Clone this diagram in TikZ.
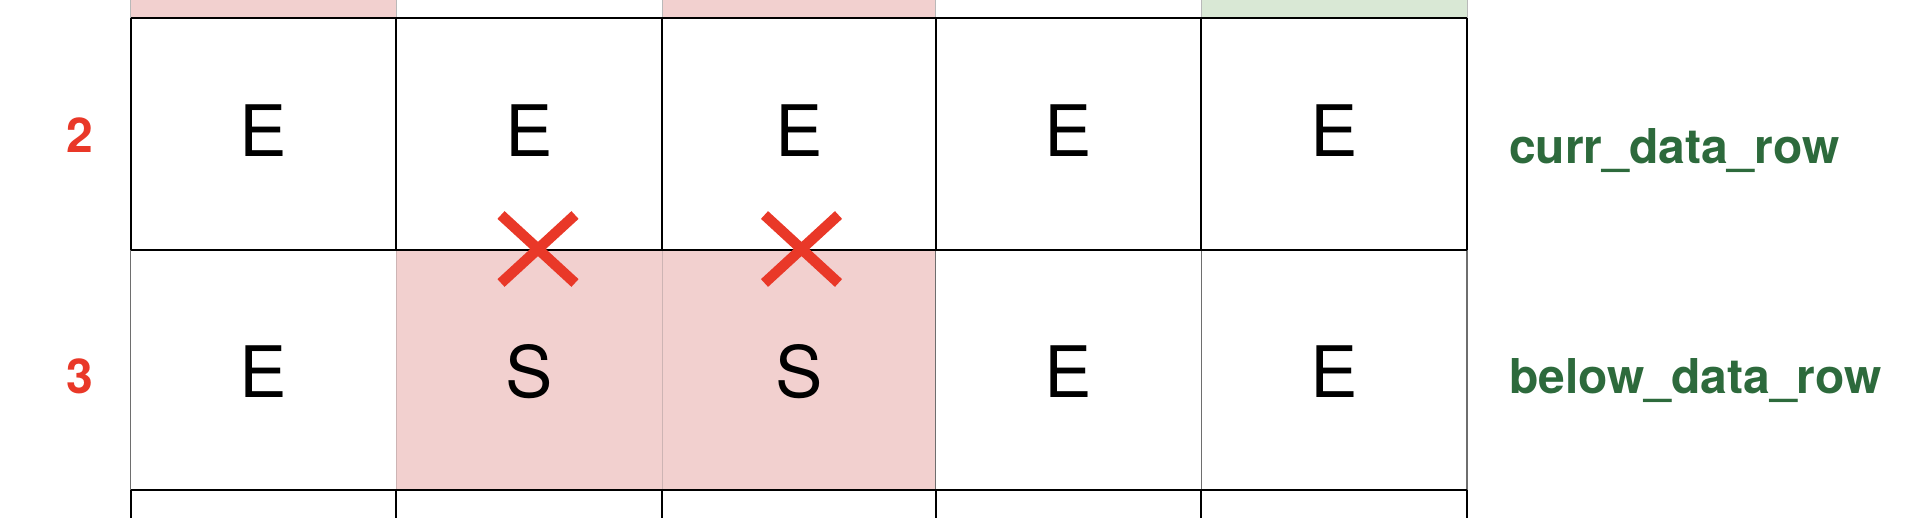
\documentclass[tikz,border=0pt]{standalone}
\usepackage{fontspec}
\setmainfont{TeX Gyre Heros}
\usetikzlibrary{shapes.misc}
\definecolor{pink1}{RGB}{242, 208, 207}
\definecolor{green1}{RGB}{217, 232, 213}
\definecolor{red1}{RGB}{233, 56, 40}
\definecolor{green2}{RGB}{45, 106, 60}
\definecolor{gray1}{RGB}{110, 110, 110}
\definecolor{gray2}{RGB}{205, 180, 180}

\begin{document}
\begin{tikzpicture}[x=1pt, y=-1pt, line width=2pt,
  letter/.style={anchor=base, inner sep=0pt, font=\fontsize{71}{71}\selectfont},
  rownum/.style={anchor=base, inner sep=0pt, text=red1, font=\fontsize{48}{48}\selectfont\bfseries},
  rowname/.style={anchor=base west, inner sep=0pt, text=green2, font=\fontsize{48}{48}\selectfont\bfseries},
  cross/.style={cross out, draw=red1, line width=10.5pt, minimum width=74pt, minimum height=68pt, inner sep=0pt, outer sep=0pt}]
  \useasboundingbox (0,0) rectangle (1930,518);
  % cell fills
  \fill[pink1] (130.5,0) rectangle (396.4,18.5);
  \fill[pink1] (662.2,0) rectangle (935.5,18.5);
  \fill[green1] (1201.4,0) rectangle (1467.2,18.5);
  \fill[pink1] (396.4,250) rectangle (935.5,490);
  % grid
  \foreach \x in {130.5,396.4,662.2,935.5,1201.4,1467.2}
    \draw[gray!55, line width=1pt] (\x,0) -- (\x,18.5);
  \foreach \x in {130.5,396.4,662.2,935.5,1201.4,1467.2}
    \draw (\x,18.5) -- (\x,250) (\x,490) -- (\x,518);
  \foreach \x in {130.5,935.5,1201.4,1467.2}
    \draw[gray1, line width=1.5pt] (\x,250) -- (\x,490);
  \foreach \x in {396.4,662.2}
    \draw[gray2, line width=1pt] (\x,250) -- (\x,490);
  \foreach \y in {18.5,250,490}
    \draw (130.5,\y) -- (1467.2,\y);
  % cell letters
  \foreach \c/\x/\a/\b in {1/263.5/E/E, 2/529.3/E/S, 3/798.9/E/S, 4/1068.5/E/E, 5/1334.3/E/E} {
    \node[letter] (c2\c) at (\x,157) {\a};
    \node[letter] (c3\c) at (\x,398) {\b};
  }
  % crosses
  \node[cross] (x1) at (538,249) {};
  \node[cross] (x2) at (801.5,249) {};
  % row labels
  \node[rownum] (r2) at (80,152.5) {2};
  \node[rownum] (r3) at (80,393) {3};
  \node[rowname] (curr) at (1508,164) {curr\_data\_row};
  \node[rowname] (below) at (1508,393) {below\_data\_row};
\end{tikzpicture}
\end{document}
